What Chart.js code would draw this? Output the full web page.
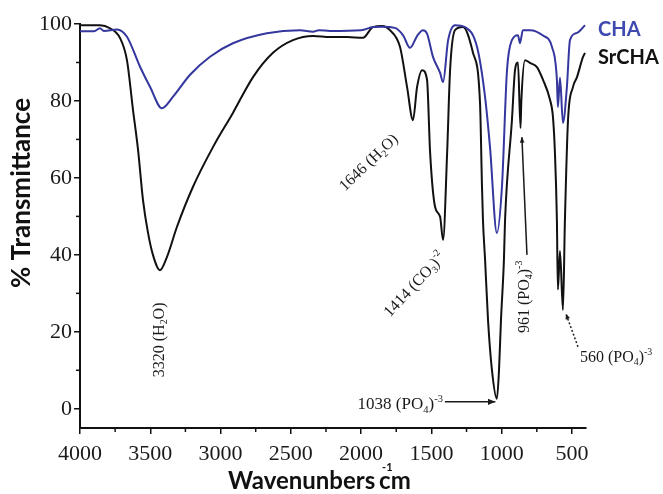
<!DOCTYPE html>
<html>
<head>
<meta charset="utf-8">
<script src="https://cdn.jsdelivr.net/npm/chart.js@4"></script>
<style>
  body { margin: 0; background: #fff; }
  canvas { display: block; }
</style>
</head>
<body>
<canvas id="ftirChart" width="663" height="494"></canvas>
<script>
// Data
const waveTicks = [4000, 3500, 3000, 2500, 2000, 1500, 1000, 500];
const waveMinor = [3750, 3250, 2750, 2250, 1750, 1250, 750];
const transTicks = [0, 20, 40, 60, 80, 100];
const transMinor = [10, 30, 50, 70, 90];
const seriesNames = ['CHA', 'SrCHA'];

const chaWave = [4000, 3900, 3858, 3830, 3737, 3666, 3573, 3502, 3417, 3338, 3217, 3075, 2912, 2670, 2435, 2342, 2300, 2221, 2000, 1916, 1850, 1760, 1702, 1652, 1600, 1560, 1531, 1488, 1438, 1417, 1381, 1332, 1261, 1175, 1118, 1083, 1034, 998, 962, 927, 884, 870, 849, 799, 706, 642, 607, 600, 585, 564, 536, 514, 464, 407];
const chaT    = [98.1, 98.1, 98.9, 98.2, 98.6, 96.7, 88.9, 83.7, 78.1, 81.1, 86.8, 91.5, 95.0, 97.6, 98.4, 98.0, 98.4, 98.2, 98.4, 99.2, 99.3, 99.0, 97.1, 93.8, 97.0, 98.4, 97.5, 91.4, 87.3, 84.9, 95.8, 99.7, 99.2, 94.0, 81.0, 68.0, 45.7, 57.7, 88.0, 95.8, 97.1, 95.0, 98.4, 98.4, 97.0, 94.0, 85.5, 78.4, 86.0, 74.3, 83.6, 95.8, 97.7, 99.7];

const srchaWave = [4000, 3858, 3787, 3716, 3666, 3623, 3587, 3552, 3516, 3481, 3431, 3381, 3310, 3196, 3054, 2912, 2769, 2627, 2485, 2342, 2221, 2100, 1987, 1916, 1850, 1795, 1723, 1673, 1631, 1602, 1566, 1531, 1509, 1474, 1438, 1417, 1388, 1367, 1332, 1275, 1204, 1154, 1140, 1133, 1118, 1097, 1069, 1034, 1019, 1005, 984, 976, 927, 905, 884, 866, 860, 834, 799, 749, 706, 656, 635, 621, 607, 600, 585, 564, 550, 528, 493, 464, 422, 407];
const srchaT    = [99.7, 99.7, 98.9, 96.4, 90.6, 77.7, 67.3, 54.3, 45.7, 40.0, 36.0, 39.5, 47.3, 57.7, 68.0, 76.9, 86.2, 92.5, 95.8, 96.9, 96.6, 96.6, 96.4, 99.2, 99.5, 98.4, 94.0, 83.6, 75.0, 83.6, 88.0, 85.5, 66.5, 52.5, 49.9, 43.9, 66.5, 88.0, 98.4, 99.2, 92.5, 79.5, 57.7, 49.0, 38.7, 23.0, 10.0, 2.6, 10.0, 23.0, 38.7, 49.0, 75.0, 88.0, 90.0, 73.0, 80.0, 90.6, 89.9, 88.8, 85.5, 80.3, 75.8, 66.5, 49.0, 31.0, 41.0, 25.7, 49.0, 75.0, 83.6, 86.2, 91.4, 92.5];

const blue = '#34379e';
const black = '#111111';

function toPoints(xs, ys) {
    return xs.map((x, i) => ({ x: x, y: ys[i] }));
}

// draw text with sub/superscripts, centred on (x, y), rotated by angle
function richText(ctx, x, y, angle, parts, size, align) {
    ctx.save();
    ctx.translate(x, y);
    ctx.rotate(angle * Math.PI / 180);
    ctx.textBaseline = 'middle';
    ctx.textAlign = 'left';
    let total = 0;
    parts.forEach(p => {
        const s = p[1] === 0 ? size : size * 0.62;
        ctx.font = s + 'px "Liberation Serif"';
        total += ctx.measureText(p[0]).width;
    });
    let cx = align === 'left' ? 0 : align === 'right' ? -total : -total / 2;
    parts.forEach(p => {
        const s = p[1] === 0 ? size : size * 0.62;
        ctx.font = s + 'px "Liberation Serif"';
        ctx.fillText(p[0], cx, p[1] * size);
        cx += ctx.measureText(p[0]).width;
    });
    ctx.restore();
}

function arrowHead(ctx, x1, y1, x2, y2, len) {
    const a = Math.atan2(y2 - y1, x2 - x1);
    ctx.beginPath();
    ctx.moveTo(x2, y2);
    ctx.lineTo(x2 - len * Math.cos(a - 0.4), y2 - len * Math.sin(a - 0.4));
    ctx.lineTo(x2 - len * Math.cos(a + 0.4), y2 - len * Math.sin(a + 0.4));
    ctx.closePath();
    ctx.fill();
}

const decorations = {
    id: 'decorations',
    afterDraw(chart) {
        const ctx = chart.ctx;
        const xs = chart.scales.x;
        const ys = chart.scales.y;
        const area = chart.chartArea;

        // minor ticks
        ctx.save();
        ctx.strokeStyle = black;
        ctx.lineWidth = 1.5;
        waveMinor.forEach(v => {
            const px = xs.getPixelForValue(v);
            ctx.beginPath();
            ctx.moveTo(px, area.bottom);
            ctx.lineTo(px, area.bottom + 4);
            ctx.stroke();
        });
        transMinor.forEach(v => {
            const py = ys.getPixelForValue(v);
            ctx.beginPath();
            ctx.moveTo(area.left, py);
            ctx.lineTo(area.left - 4, py);
            ctx.stroke();
        });
        ctx.restore();

        // peak annotations
        ctx.save();
        ctx.fillStyle = '#1a1a1a';
        ctx.strokeStyle = '#1a1a1a';
        const P = (w, t) => [xs.getPixelForValue(w), ys.getPixelForValue(t)];

        let p = P(3431, 17.9);
        richText(ctx, p[0], p[1], -90, [['3320 (H', 0], ['2', 0.3], ['O)', 0]], 16);
        p = P(1944, 63.9);
        richText(ctx, p[0], p[1], -44, [['1646 (H', 0], ['2', 0.3], ['O)', 0]], 16);
        p = P(1617, 32.2);
        richText(ctx, p[0], p[1], -47, [['1414 (CO', 0], ['3', 0.3], [')', 0], ['-2', -0.35]], 16);
        p = P(834, 29.1);
        richText(ctx, p[0], p[1], -90, [['961 (PO', 0], ['4', 0.3], [')', 0], ['-3', -0.35]], 16);
        p = P(1418, 1.0);
        richText(ctx, p[0], p[1], 0, [['1038 (PO', 0], ['4', 0.3], [')', 0], ['-3', -0.35]], 17, 'right');
        p = P(443, 13.2);
        richText(ctx, p[0], p[1], 0, [['560 (PO', 0], ['4', 0.3], [')', 0], ['-3', -0.35]], 16, 'left');

        // leader for 1038
        ctx.lineWidth = 1.5;
        let a = P(1404, 1.8), b = P(1045, 1.8);
        ctx.beginPath();
        ctx.moveTo(a[0], a[1]);
        ctx.lineTo(b[0], b[1]);
        ctx.stroke();
        arrowHead(ctx, a[0], a[1], b[0], b[1], 8);

        // leader for 961
        a = P(820, 40);
        b = P(856, 70.6);
        ctx.beginPath();
        ctx.moveTo(a[0], a[1]);
        ctx.lineTo(b[0], b[1]);
        ctx.stroke();
        arrowHead(ctx, a[0], a[1], b[0], b[1], 6);

        // dashed leader for 560
        a = P(457, 16.1);
        b = P(543, 24.7);
        ctx.setLineDash([2, 2]);
        ctx.beginPath();
        ctx.moveTo(a[0], a[1]);
        ctx.lineTo(b[0], b[1]);
        ctx.stroke();
        ctx.setLineDash([]);
        arrowHead(ctx, a[0], a[1], b[0], b[1], 6);
        ctx.restore();

        // axis titles
        ctx.save();
        ctx.fillStyle = '#111';
        ctx.textBaseline = 'middle';
        ctx.font = 'bold 24px Lato';
        ctx.textAlign = 'left';
        const xt = 'Wavenunbers ';
        ctx.fillText(xt, 228, 481);
        const xw = ctx.measureText(xt).width;
        ctx.fillText('cm', 228 + xw - 2, 481);
        ctx.font = 'bold 11px Lato';
        ctx.fillText('-1', 228 + xw + 1, 467);

        ctx.translate(22, 193);
        ctx.rotate(-Math.PI / 2);
        ctx.textAlign = 'center';
        ctx.font = 'bold 26px Lato';
        ctx.fillText('% Transmittance', 0, 0);
        ctx.restore();

        // legend as plain text at the line ends
        ctx.save();
        ctx.textBaseline = 'middle';
        ctx.textAlign = 'left';
        ctx.font = 'bold 20px Lato';
        chart.data.datasets.forEach((ds, i) => {
            ctx.fillStyle = i === 0 ? '#3f4ab0' : black;
            ctx.fillText(ds.label, 598, 30 + i * 28);
        });
        ctx.restore();
    }
};

new Chart(document.getElementById('ftirChart'), {
    type: 'scatter',
    data: {
        datasets: [{
            label: seriesNames[0],
            data: toPoints(chaWave, chaT),
            showLine: true,
            borderColor: blue,
            borderWidth: 2,
            pointRadius: 0,
            cubicInterpolationMode: 'monotone',
            clip: false
        }, {
            label: seriesNames[1],
            data: toPoints(srchaWave, srchaT),
            showLine: true,
            borderColor: black,
            borderWidth: 2,
            pointRadius: 0,
            cubicInterpolationMode: 'monotone',
            clip: false
        }]
    },
    options: {
        responsive: false,
        animation: false,
        layout: { padding: { left: 0, right: 77, top: 24, bottom: 0 } },
        plugins: {
            legend: { display: false },
            tooltip: { enabled: false }
        },
        scales: {
            x: {
                type: 'linear',
                reverse: true,
                min: 400,
                max: 4000,
                afterBuildTicks: s => { s.ticks = waveTicks.map(v => ({ value: v })); },
                afterFit: s => { s.height = 66; },
                border: { display: true, color: black, width: 2 },
                grid: { drawOnChartArea: false, tickLength: 6, color: black, lineWidth: 1.5 },
                ticks: {
                    font: { family: 'Liberation Serif', size: 22 },
                    color: '#1a1a1a',
                    padding: 7,
                    maxRotation: 0,
                    autoSkip: false,
                    callback: v => String(v)
                }
            },
            y: {
                min: -5,
                max: 100,
                afterBuildTicks: s => { s.ticks = transTicks.map(v => ({ value: v })); },
                afterFit: s => { s.width = 80; },
                border: { display: true, color: black, width: 2 },
                grid: { drawOnChartArea: false, tickLength: 6, color: black, lineWidth: 1.5 },
                ticks: {
                    font: { family: 'Liberation Serif', size: 22 },
                    color: '#1a1a1a',
                    padding: 2,
                    callback: v => String(v)
                }
            }
        }
    },
    plugins: [decorations]
});
</script>
</body>
</html>
